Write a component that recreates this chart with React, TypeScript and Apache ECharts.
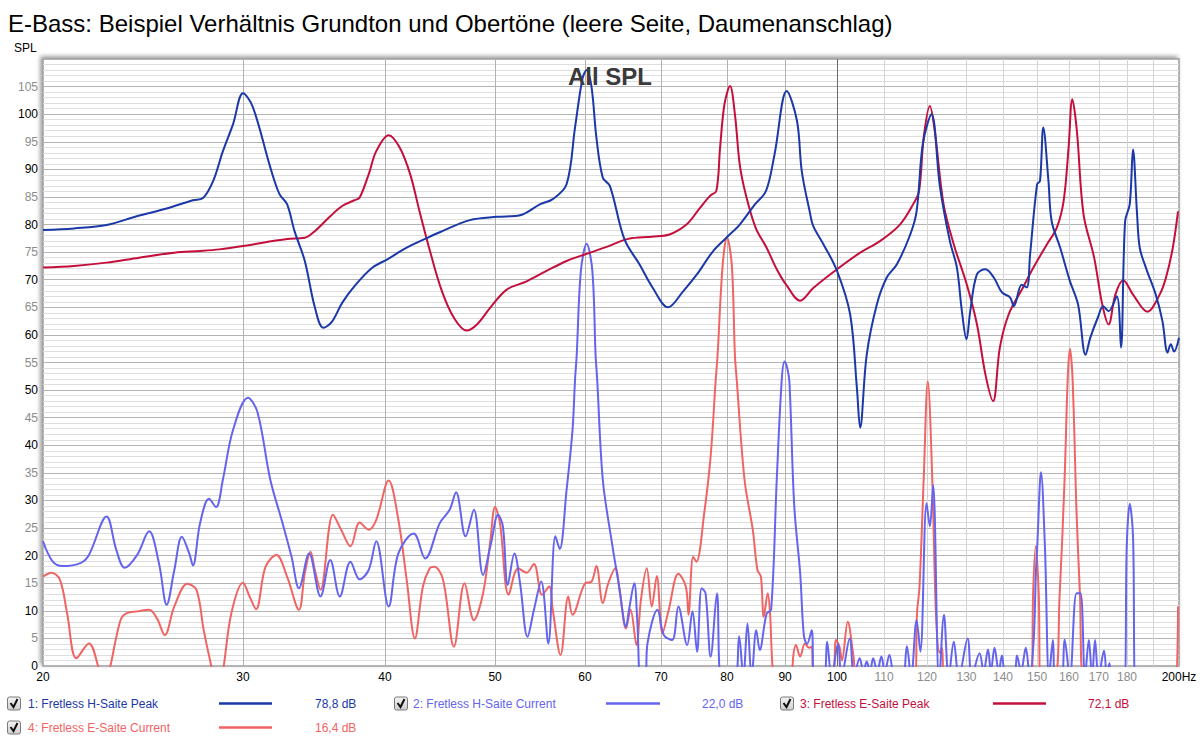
import { useEffect, useRef } from "react";
import * as echarts from "echarts";

const FONT = "'Liberation Sans', Arial, 'DejaVu Sans', sans-serif";

const TITLE = "E-Bass: Beispiel Verhältnis Grundton und Obertöne (leere Seite, Daumenanschlag)";
const Y_NAME = "SPL";
const OVERLAY = "All SPL";

// x axis (Hz, log)
const X_LABELS = [20, 30, 40, 50, 60, 70, 80, 90, 100, 110, 120, 130, 140, 150, 160, 170, 180, 200];
const X_GRID_MAJOR = [30, 40, 50, 60, 70, 80, 90];
const X_GRID_DECADE = [100];
const X_GRID_MINOR = [110, 120, 130, 140, 150, 160, 170, 180, 190];

const SERIES_NAMES = [
  "1: Fretless H-Saite Peak",
  "2: Fretless H-Saite Current",
  "3: Fretless E-Saite Peak",
  "4: Fretless E-Saite Current",
];
const SERIES_LEVELS = ["78,8 dB", "22,0 dB", "72,1 dB", "16,4 dB"];
const SERIES_COLORS = ["#1a38a8", "#6464ee", "#c40f3c", "#f06464"];

// [Hz, dB]
const hPeak: [number, number][] = [
  [20, 79.0], [21.3, 79.3], [22.75, 79.9], [24.18, 81.5], [25.7, 82.9], [27.1, 84.4], [27.66, 84.8],
  [28.24, 87.9], [28.8, 93.3], [29.4, 98.2], [30.0, 103.8], [30.6, 101.3], [31.7, 90.4], [32.3, 85.5],
  [32.8, 83.7], [33.3, 78.8], [34.0, 73.4], [34.7, 65.0], [35.3, 61.3], [35.9, 62.3], [36.7, 65.9],
  [37.7, 69.1], [39.0, 72.2], [40.2, 73.7], [41.8, 75.8], [43.6, 77.6], [44.7, 78.6], [47.5, 80.8],
  [50.2, 81.4], [52.6, 81.7], [54.8, 83.7], [56.2, 84.6], [57.8, 87.3], [58.8, 97.6], [59.7, 106.5],
  [60.2, 108.0], [60.8, 104.9], [61.4, 95.8], [62.2, 88.5], [63.1, 87.0], [65.0, 77.3], [67.0, 72.8],
  [68.8, 68.6], [71.0, 65.0], [73.2, 67.9], [75.3, 71.0], [77.8, 75.2], [80.0, 77.7], [82.1, 80.0],
  [84.7, 83.7], [86.6, 86.1], [88.1, 92.7], [90.3, 104.2], [92.2, 98.8], [93.1, 89.7], [94.6, 82.4],
  [95.3, 79.7], [97.3, 76.4], [100.0, 71.6], [102.7, 63.7], [104.1, 50.5], [104.8, 43.2], [106.2, 56.4],
  [108.4, 65.5], [110.6, 70.4], [112.9, 72.8], [116.0, 78.2], [117.5, 82.4], [119.0, 94.6], [121.1, 100.0],
  [123.2, 86.8], [125.7, 77.0], [127.5, 72.2], [128.8, 64.3], [130.0, 59.2], [131.0, 64.3], [132.8, 71.0],
  [135.1, 71.9], [137.4, 70.4], [139.7, 67.7], [142.0, 66.8], [143.1, 65.2], [145.4, 69.1], [146.9, 68.6],
  [147.9, 74.6], [150.0, 87.3], [150.9, 87.9], [151.9, 97.6], [153.5, 87.9], [154.5, 80.6], [157.2, 75.8],
  [160.3, 69.8], [163.0, 65.5], [165.5, 56.4], [167.1, 59.5], [169.7, 63.2], [171.5, 65.2], [173.4, 64.3],
  [176.3, 67.0], [177.8, 57.7], [179.3, 80.6], [181.0, 83.7], [182.2, 93.6], [183.7, 81.9], [184.7, 75.8],
  [187.0, 72.2], [190.8, 67.3], [193.4, 62.5], [195.4, 56.8], [196.7, 58.3], [198.0, 57.0], [200, 59.5],
];

const hCurrent: [number, number][] = [
  [20, 22.6], [20.4, 18.9], [20.8, 18.1], [21.6, 18.7], [21.95, 20.1], [22.75, 27.1], [23.2, 21.1],
  [23.6, 17.8], [24.2, 20.1], [24.8, 24.4], [25.3, 18.6], [25.7, 11.1], [26.1, 17.4], [26.5, 23.4],
  [26.9, 20.4], [27.1, 18.2], [27.5, 25.9], [28.0, 30.3], [28.4, 28.8], [28.8, 33.8], [29.4, 42.8],
  [30.3, 48.6], [30.9, 45.9], [31.7, 33.8], [32.5, 25.9], [33.1, 19.8], [33.6, 14.1], [34.3, 20.4],
  [35.1, 12.6], [35.8, 19.2], [36.5, 12.6], [37.3, 18.9], [38.0, 15.7], [38.7, 17.4], [39.3, 22.6],
  [40.3, 10.8], [41.1, 20.4], [42.4, 24.0], [43.4, 19.5], [44.7, 25.9], [45.6, 28.3], [46.2, 31.5],
  [47.1, 23.5], [47.9, 28.3], [48.8, 16.5], [49.6, 22.3], [50.3, 27.4], [50.8, 25.3], [51.3, 14.7],
  [52.0, 20.4], [52.6, 15.0], [53.4, 5.3], [54.1, 10.2], [54.9, 15.3], [55.7, 4.1], [56.5, 23.5],
  [57.0, 21.2], [57.8, 31.9], [58.5, 42.8], [58.8, 51.9], [59.0, 56.4], [59.5, 71.6], [60.2, 76.5],
  [60.9, 71.6], [61.3, 56.4], [61.5, 51.9], [62.2, 33.8], [63.3, 22.9], [64.3, 14.4], [65.2, 7.1],
  [65.6, 10.2], [66.3, 15.0], [66.7, 8.3], [67.2, -3], [67.8, -3], [68.1, 4.1], [69.5, 10.2],
  [70.4, 5.6], [71.6, 4.7], [72.5, 10.8], [73.8, 3.8], [74.6, 9.9], [75.3, 2.6], [76.0, 14.1],
  [76.6, 13.2], [77.4, 1.7], [78.4, 13.2], [79.2, -3], [81.2, -3], [82.0, 5.4], [82.7, -2],
  [83.4, 7.7], [84.1, -2], [84.9, 6.5], [85.5, 2.9], [86.7, 9.5], [87.5, 10.2], [88.5, 33.8],
  [89.4, 51.9], [89.9, 55.2], [90.4, 54.0], [90.8, 51.5], [91.7, 28.9], [92.8, 16.8], [93.5, 5.5],
  [94.1, 4.0], [95.0, 6.5], [95.5, -2], [97.3, -2], [98.0, 4.4], [98.9, -2], [100.2, 4.1],
  [100.9, -2], [102.6, 5.0], [103.5, -2], [104.7, 1.4], [105.5, -1], [106.2, 0.8], [106.9, -1],
  [107.6, 1.4], [108.5, -1], [109.4, 1.7], [110.2, -1], [111.2, 2.0], [112.5, -2], [114.2, -2],
  [115.2, 3.6], [116.2, -2], [117.5, 8.3], [118.4, 2.6], [119.9, 29.5], [120.7, 25.3], [121.5, 32.8],
  [123.0, -3], [124.2, 9.3], [125.4, -2], [126.7, 4.4], [128.0, -2], [130.3, 5.0], [131.4, -2],
  [133.5, 2.3], [134.6, -1], [135.8, 3.0], [136.6, -1], [137.6, 3.3], [138.8, -1], [139.7, 1.9],
  [140.7, -1], [143.2, -1], [144.0, 1.9], [145.2, -1], [146.6, 3.3], [147.8, -2], [149.0, 5.0],
  [149.6, 16.2], [150.1, 22.3], [151.2, 35.1], [152.4, 21.7], [153.7, -2], [154.9, 4.7], [155.7, -2],
  [157.6, -2], [158.6, 4.8], [160.3, -2], [162.5, 13.2], [163.8, 13.2], [165.3, -2], [166.6, 4.7],
  [167.7, -2], [168.7, 4.7], [169.9, -2], [171.8, 2.8], [172.8, -2], [173.7, 0.5], [174.5, -2],
  [179.0, -2], [179.9, 21.7], [181.0, 29.4], [182.2, 23.5], [183.2, -3], [200, -3],
];

const ePeak: [number, number][] = [
  [20, 72.2], [21.3, 72.5], [22.75, 73.1], [24.3, 74.0], [26.1, 74.9], [27.5, 75.2], [28.6, 75.5],
  [30.0, 76.1], [31.4, 76.8], [32.8, 77.4], [34.0, 77.6], [34.7, 78.8], [35.8, 81.5], [36.7, 83.4],
  [37.6, 84.4], [38.0, 84.9], [38.7, 89.1], [39.3, 93.3], [40.3, 96.2], [41.2, 94.0], [42.1, 89.1],
  [42.9, 82.4], [43.9, 74.6], [44.9, 67.9], [46.0, 63.1], [47.2, 60.8], [48.2, 61.9], [49.5, 64.9],
  [51.2, 68.2], [53.3, 69.7], [55.5, 71.6], [57.8, 73.4], [60.2, 74.7], [62.6, 75.9], [65.5, 77.4],
  [68.7, 77.8], [71.2, 78.2], [73.7, 80.0], [75.6, 82.8], [77.3, 85.2], [78.3, 86.1], [78.9, 94.0],
  [79.6, 101.8], [80.5, 105.1], [81.3, 100.0], [82.1, 90.9], [83.1, 85.5], [84.8, 79.4], [86.7, 75.8],
  [88.5, 71.9], [90.2, 69.1], [92.8, 66.2], [95.3, 68.5], [100.0, 71.9], [104.8, 74.9], [109.1, 77.0],
  [113.6, 80.0], [116.7, 83.7], [118.1, 86.1], [119.2, 95.8], [120.7, 101.5], [121.9, 97.0], [124.1, 83.7],
  [126.7, 76.4], [130.1, 69.1], [132.8, 61.9], [135.1, 52.8], [137.2, 48.0], [139.1, 57.7], [141.6, 63.7],
  [145.7, 68.5], [148.9, 72.2], [153.0, 76.4], [156.1, 79.4], [158.3, 84.3], [159.9, 94.0], [161.1, 102.7],
  [162.6, 97.0], [164.8, 81.9], [168.4, 74.0], [171.2, 65.5], [173.4, 61.9], [175.8, 67.3], [178.6, 69.9],
  [182.2, 67.3], [187.6, 64.2], [192.3, 67.3], [194.8, 70.4], [197.5, 75.8], [199.6, 82.4],
];

const eCurrent: [number, number][] = [
  [20, 16.2], [20.35, 16.9], [20.7, 15.6], [21.0, 9.6], [21.4, 1.4], [21.95, 4.1], [22.4, -0.5],
  [22.65, -4], [22.9, -0.5], [23.4, 8.3], [23.7, 9.6], [24.2, 9.9], [24.8, 10.2], [25.2, 8.6],
  [25.6, 5.6], [26.1, 10.8], [26.8, 14.9], [27.3, 13.8], [27.7, 6.5], [28.2, -1], [28.5, -5],
  [28.8, -1], [29.3, 9.6], [30.0, 15.1], [30.4, 12.6], [30.8, 10.3], [31.4, 18.0], [32.1, 20.1],
  [32.8, 16.2], [33.6, 10.2], [34.0, 16.8], [34.4, 20.7], [34.7, 17.4], [35.1, 13.8], [36.0, 27.4],
  [36.6, 24.7], [37.3, 21.7], [38.0, 26.0], [38.7, 24.7], [39.3, 26.5], [40.3, 33.6], [41.1, 26.5],
  [41.8, 15.6], [42.5, 5.0], [43.2, 14.4], [43.8, 17.7], [44.2, 18.0], [45.0, 15.6], [46.0, 3.5],
  [47.0, 15.0], [47.9, 8.3], [48.8, 13.2], [49.5, 22.3], [50.0, 28.8], [50.5, 25.9], [51.4, 12.9],
  [52.4, 17.7], [53.3, 16.9], [54.1, 18.5], [55.0, 12.9], [55.8, 14.4], [56.2, 10.2], [57.1, 2.0],
  [58.0, 12.6], [58.5, 9.3], [60.0, 15.0], [60.8, 15.3], [61.4, 18.1], [62.2, 11.4], [62.9, 15.0],
  [63.8, 17.7], [64.4, 13.2], [65.2, 6.8], [65.8, 10.2], [66.6, 3.8], [67.2, 12.0], [68.0, 17.7],
  [68.7, 10.8], [69.4, 16.3], [70.2, 5.9], [71.1, 10.2], [72.5, 16.7], [73.6, 14.4], [74.0, 9.3],
  [74.7, 19.8], [75.2, 18.9], [76.4, 27.7], [77.4, 38.0], [78.2, 51.9], [78.5, 56.4], [79.3, 72.5],
  [80.0, 77.7], [80.8, 72.5], [81.3, 56.4], [81.6, 51.9], [82.9, 33.8], [84.3, 24.7], [85.1, 17.4],
  [85.7, 16.2], [86.2, 8.9], [86.9, 13.2], [87.3, 9.6], [87.8, -1], [88.5, -5], [91.0, -5],
  [91.5, 1.7], [92.0, 3.8], [92.8, 1.7], [93.7, 4.1], [94.5, 3.3], [95.0, 3.5], [95.4, -2],
  [99.0, -2], [99.8, 4.7], [100.5, 3.5], [101.0, 1.0], [102.2, 8.0], [103.4, 1.7], [104.1, -2],
  [117.1, -2], [117.6, 9.6], [118.2, 14.4], [119.2, 33.8], [120.2, 51.6], [121.3, 33.8], [122.2, 9.6],
  [123.1, 2.4], [123.7, 3.3], [124.3, -2], [148.3, -2], [148.8, 13.2], [149.6, 21.7], [150.5, 13.2],
  [151.1, -2], [155.4, -2], [157.0, 12.6], [158.6, 33.8], [159.6, 51.9], [160.3, 57.5], [161.2, 51.9],
  [162.5, 27.7], [163.6, 13.2], [164.8, -2], [198.5, -2], [199.6, 10.8],
];

const SERIES_DATA = [hPeak, hCurrent, ePeak, eCurrent];
const DRAW_ORDER = [3, 1, 2, 0];

const lg = (f: number) => Math.log10(f);

const LEGEND_ROWS = [703.5, 727.5];
const LEGEND_COLS = [
  { box: 7, text: 28, line: [219, 272], val: 315 },
  { box: 394, text: 413, line: [606, 660], val: 702 },
  { box: 780, text: 800, line: [993, 1046], val: 1088 },
];

function legendItem(i: number) {
  const col = LEGEND_COLS[i % 3];
  const y = LEGEND_ROWS[Math.floor(i / 3)];
  const color = SERIES_COLORS[i];
  return [
    {
      type: "rect",
      shape: { x: col.box + 0.5, y: y - 6.5, width: 13, height: 13, r: 2 },
      style: {
        fill: new echarts.graphic.LinearGradient(0, 0, 0, 1, [
          { offset: 0, color: "#f4f4f4" },
          { offset: 1, color: "#cfcfcf" },
        ]),
        stroke: "#7a7a7a",
        lineWidth: 1,
      },
    },
    {
      type: "polyline",
      shape: { points: [[col.box + 3.5, y - 0.5], [col.box + 6.5, y + 3.5], [col.box + 10.5, y - 4.5]] },
      style: { stroke: "#111", lineWidth: 2, fill: "none" },
    },
    {
      type: "text",
      x: col.text,
      y,
      style: { text: SERIES_NAMES[i], fill: color, font: `12px ${FONT}`, verticalAlign: "middle" },
    },
    {
      type: "line",
      shape: { x1: col.line[0], y1: y, x2: col.line[1], y2: y },
      style: { stroke: color, lineWidth: 2.5 },
    },
    {
      type: "text",
      x: col.val,
      y,
      style: { text: SERIES_LEVELS[i], fill: color, font: `12px ${FONT}`, verticalAlign: "middle" },
    },
  ];
}

export default function App() {
  const ref = useRef<HTMLDivElement>(null);

  useEffect(() => {
    if (!ref.current) return;
    const chart = echarts.init(ref.current, null, { renderer: "svg" });

    const baseX = {
      type: "value" as const,
      min: lg(20),
      max: lg(200),
      gridIndex: 0,
      position: "bottom" as const,
      axisLine: { show: false },
      axisLabel: { show: false },
    };

    chart.setOption({
      animation: false,
      backgroundColor: "#ffffff",
      textStyle: { fontFamily: FONT },
      grid: {
        left: 43, right: 21, top: 59, bottom: 76,
        show: true,
        backgroundColor: "#ffffff",
        borderColor: "#9a9a9a",
        borderWidth: 1.5,
        shadowColor: "rgba(0,0,0,0.4)",
        shadowBlur: 4,
        shadowOffsetX: -2,
        shadowOffsetY: -2,
      },
      xAxis: [
        {
          ...baseX,
          axisTick: { show: false, customValues: X_GRID_MAJOR.map(lg) },
          splitLine: { show: true, lineStyle: { color: "#b2b2b2", width: 1 } },
          axisLabel: {
            show: true,
            customValues: X_LABELS.map(lg),
            margin: 5,
            formatter: (v: number) => {
              const f = Math.round(Math.pow(10, v));
              if (f === 200) return "{k|200Hz}";
              return f > 100 ? `{g|${f}}` : `{k|${f}}`;
            },
            rich: {
              k: { color: "#000000", fontSize: 12, fontFamily: FONT },
              g: { color: "#8c8c8c", fontSize: 12, fontFamily: FONT },
            },
          },
        },
        {
          ...baseX,
          axisTick: { show: false, customValues: X_GRID_DECADE.map(lg) },
          splitLine: { show: true, lineStyle: { color: "#6a6a6a", width: 1 } },
        },
        {
          ...baseX,
          axisTick: { show: false, customValues: X_GRID_MINOR.map(lg) },
          splitLine: { show: true, lineStyle: { color: "#d4d4d4", width: 1 } },
        },
      ],
      yAxis: {
        type: "value",
        min: 0,
        max: 110,
        interval: 5,
        axisLine: { show: false },
        axisTick: { show: false },
        axisLabel: {
          margin: 5,
          formatter: (v: number) => (v >= 110 ? "" : v % 10 === 0 ? `{k|${v}}` : `{g|${v}}`),
          rich: {
            k: { color: "#000000", fontSize: 12, fontFamily: FONT },
            g: { color: "#8c8c8c", fontSize: 12, fontFamily: FONT },
          },
        },
        splitLine: { show: true, lineStyle: { color: "#b4b4b4", width: 1 } },
        minorTick: { show: false, splitNumber: 5 },
        minorSplitLine: { show: true, lineStyle: { color: "#dedede", width: 1 } },
      },
      series: DRAW_ORDER.map((i) => ({
        name: SERIES_NAMES[i],
        type: "line",
        xAxisIndex: 0,
        yAxisIndex: 0,
        data: SERIES_DATA[i].map(([f, v]) => [lg(f), v]),
        smooth: 0.35,
        symbol: "none",
        clip: true,
        lineStyle: { color: SERIES_COLORS[i], width: 2 },
        itemStyle: { color: SERIES_COLORS[i] },
        z: 3,
      })),
      graphic: [
        {
          type: "text",
          x: 8,
          y: 23,
          style: { text: TITLE, fill: "#000", font: `24px ${FONT}`, verticalAlign: "middle" },
        },
        {
          type: "text",
          x: 14,
          y: 48,
          style: { text: Y_NAME, fill: "#000", font: `12px ${FONT}`, verticalAlign: "middle" },
        },
        {
          type: "text",
          x: 610,
          y: 76,
          z: 100,
          style: {
            text: OVERLAY,
            fill: "#3a3a3a",
            font: `bold 24px ${FONT}`,
            align: "center",
            verticalAlign: "middle",
          },
        },
        ...[0, 1, 2, 3].flatMap((i) => legendItem(i)),
      ],
    });

    return () => chart.dispose();
  }, []);

  return (
    <div
      ref={ref}
      style={{ position: "fixed", left: 0, top: 0, width: 1200, height: 742, background: "#fff" }}
    />
  );
}
